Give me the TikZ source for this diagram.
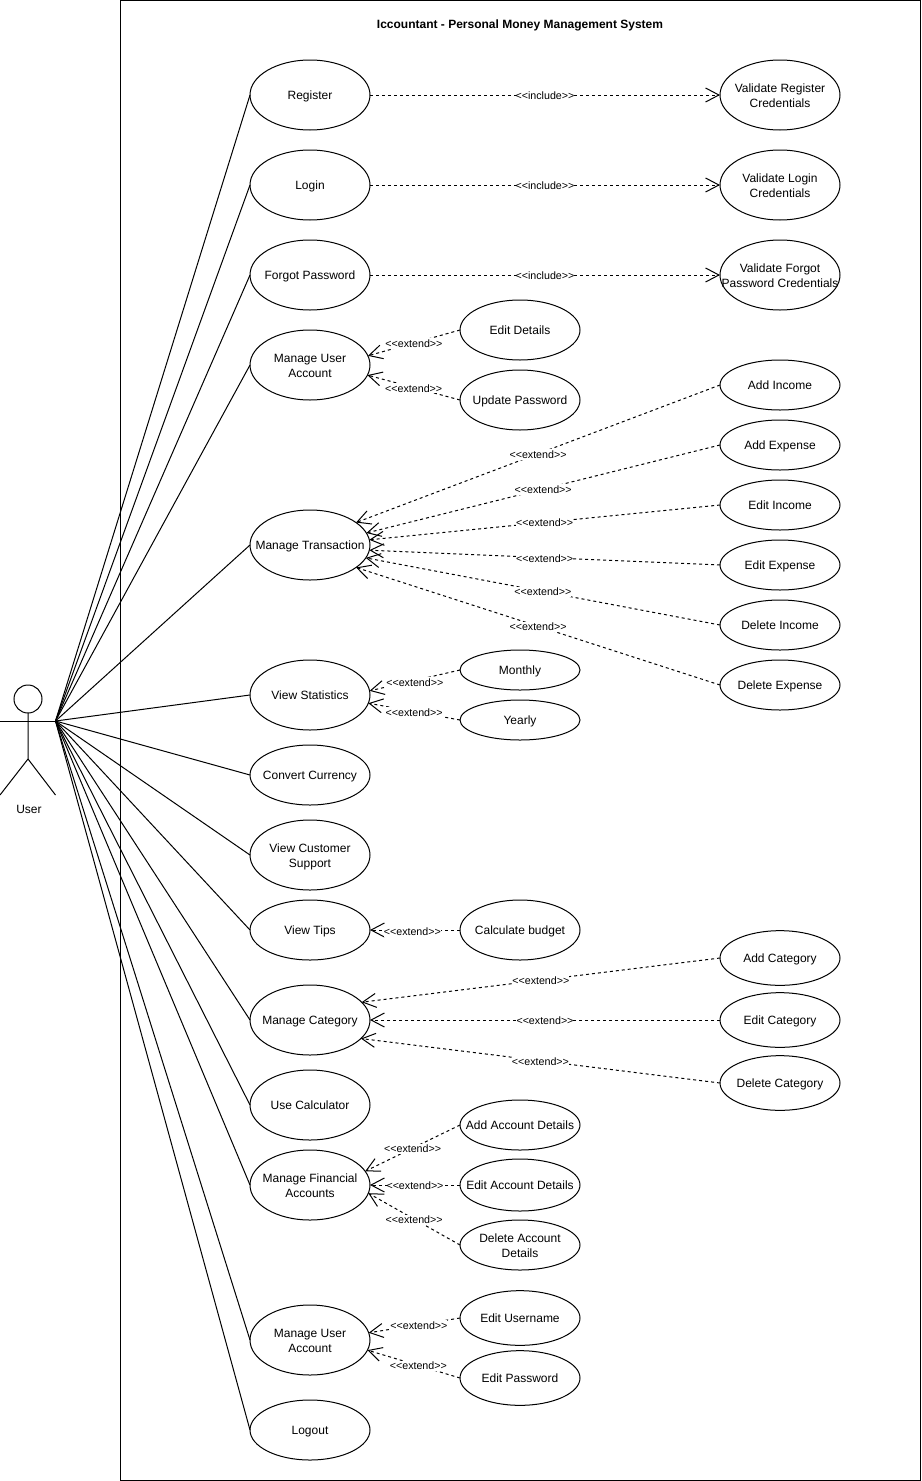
\documentclass[tikz,border=0pt]{standalone}
\usepackage{fontspec}
\setmainfont{Liberation Sans}
\usetikzlibrary{shapes.geometric}
\usetikzlibrary{arrows.meta}

\newcommand{\inclabel}{<{}<include>{}>}
\newcommand{\extlabel}{<{}<extend>{}>}
\newcommand{\linestrut}{\rule[-2pt]{0pt}{10pt}}
\newcommand{\topstrut}{\rule{0pt}{9.8pt}}

\tikzset{
  usecase/.style={draw,ellipse,line width=0.75pt,align=center,outer sep=0pt,
    inner xsep=-45pt,inner ysep=-20pt,minimum width=90pt,
    execute at begin node=\linestrut,execute at end node=\linestrut,
    font=\fontsize{9}{11.25}\selectfont},
  assoc/.style={line width=0.75pt},
  depline/.style={line width=0.75pt,dash pattern=on 2.25pt off 2.25pt,
    -{Straight Barb[length=10pt,width=10.5pt,line width=0.75pt]}},
  deplabel/.style={fill=white,inner xsep=0pt,inner ysep=1pt,midway,yshift=-0.5pt,
    font=\fontsize{8}{9}\selectfont}
}

\begin{document}
\begin{tikzpicture}[x=0.75pt,y=-0.75pt]
\useasboundingbox (0,0) rectangle (921,1481);
\node[draw,line width=0.75pt,minimum width=600pt,minimum height=1110pt,outer sep=0pt,inner sep=0pt] (system) at (520.5,740.5) {};
\node[font=\fontsize{9}{11}\bfseries] (title) at (520,25) {Iccountant - Personal Money Management System};

% actor
\node[draw,circle,line width=0.75pt,minimum size=21pt,inner sep=0pt,outer sep=0pt] (head) at (28,699) {};
\coordinate (hip) at (28,759);
\coordinate (lhand) at (0,721);
\coordinate (hand) at (55.5,721);
\coordinate (lfoot) at (0,795);
\coordinate (rfoot) at (55.5,795);
\draw[assoc] (head.south) -- (hip) -- (lfoot);
\draw[assoc] (hip) -- (rfoot);
\draw[assoc] (lhand) -- (hand);
\node[font=\fontsize{9}{11}\selectfont] (user) at (29,809) {User};

% left column
\node[usecase,minimum height=52.5pt] (register) at (310,95) {Register};
\node[usecase,minimum height=52.5pt] (login) at (310,185) {Login};
\node[usecase,minimum height=52.5pt] (forgot) at (310,275) {Forgot Password};
\node[usecase,minimum height=52.5pt] (account) at (310,365) {\topstrut Manage User\\Account};
\node[usecase,minimum height=52.5pt] (transaction) at (310,545) {Manage Transaction};
\node[usecase,minimum height=52.5pt] (statistics) at (310,695) {View Statistics};
\node[usecase,minimum height=45pt] (currency) at (310,775) {Convert Currency};
\node[usecase,minimum height=52.5pt] (support) at (310,855) {\topstrut View Customer\\Support};
\node[usecase,minimum height=45pt] (tips) at (310,930) {View Tips};
\node[usecase,minimum height=52.5pt] (category) at (310,1020) {Manage Category};
\node[usecase,minimum height=52.5pt] (calculator) at (310,1105) {Use Calculator};
\node[usecase,minimum height=52.5pt] (financial) at (310,1185) {\topstrut Manage Financial\\Accounts};
\node[usecase,minimum height=52.5pt] (profile) at (310,1340) {\topstrut Manage User\\Account};
\node[usecase,minimum height=45pt] (logout) at (310,1430) {Logout};

% middle column
\node[usecase,minimum height=45pt] (details) at (520,330) {Edit Details};
\node[usecase,minimum height=45pt] (password) at (520,400) {Update Password};
\node[usecase,minimum height=30pt] (monthly) at (520,670) {Monthly};
\node[usecase,minimum height=30pt] (yearly) at (520,720) {Yearly};
\node[usecase,minimum height=45pt] (budget) at (520,930) {Calculate budget};
\node[usecase,minimum height=37.5pt] (addacc) at (520,1125) {Add Account Details};
\node[usecase,minimum height=39pt] (editacc) at (520,1185) {Edit Account Details};
\node[usecase,minimum height=37.5pt] (delacc) at (520,1245) {\topstrut Delete Account\\Details};
\node[usecase,minimum height=41pt] (username) at (520,1318) {Edit Username};
\node[usecase,minimum height=41pt] (editpass) at (520,1378) {Edit Password};

% right column
\node[usecase,minimum height=52.5pt] (valreg) at (780,95) {\topstrut Validate Register\\Credentials};
\node[usecase,minimum height=52.5pt] (vallog) at (780,185) {\topstrut Validate Login\\Credentials};
\node[usecase,minimum height=52.5pt] (valfor) at (780,275) {\topstrut Validate Forgot\\Password Credentials};
\node[usecase,minimum height=37.5pt] (addinc) at (780,385) {Add Income};
\node[usecase,minimum height=37.5pt] (addexp) at (780,445) {Add Expense};
\node[usecase,minimum height=37.5pt] (editinc) at (780,505) {Edit Income};
\node[usecase,minimum height=37.5pt] (editexp) at (780,565) {Edit Expense};
\node[usecase,minimum height=37.5pt] (delinc) at (780,625) {Delete Income};
\node[usecase,minimum height=37.5pt] (delexp) at (780,685) {Delete Expense};
\node[usecase,minimum height=41pt] (addcat) at (780,958) {Add Category};
\node[usecase,minimum height=41pt] (editcat) at (780,1020) {Edit Category};
\node[usecase,minimum height=41pt] (delcat) at (780,1083) {Delete Category};

% actor to use cases
\path[assoc]
  (hand) edge (register.west)
         edge (login.west)
         edge (forgot.west)
         edge (account.west)
         edge (transaction.west)
         edge (statistics.west)
         edge (currency.west)
         edge (support.west)
         edge (tips.west)
         edge (category.west)
         edge (calculator.west)
         edge (financial.west)
         edge (profile.west)
         edge (logout.west);

% include
\path[depline]
  (register.east) edge node[deplabel] {\inclabel} (valreg.west)
  (login.east) edge node[deplabel] {\inclabel} (vallog.west)
  (forgot.east) edge node[deplabel] {\inclabel} (valfor.west);

% extend
\path[depline]
  (details.west) edge node[deplabel] {\extlabel} (account.9)
  (password.west) edge node[deplabel] {\extlabel} (account.-10)
  (addinc.west) edge node[deplabel] {\extlabel} (transaction.26)
  (addexp.west) edge node[deplabel] {\extlabel} (transaction.12)
  (editinc.west) edge node[deplabel] {\extlabel} (transaction.5)
  (editexp.west) edge node[deplabel] {\extlabel} (transaction.-5)
  (delinc.west) edge node[deplabel] {\extlabel} (transaction.-13)
  (delexp.west) edge node[deplabel] {\extlabel} (transaction.-26)
  (monthly.west) edge node[deplabel,yshift=-1pt] {\extlabel} (statistics.4)
  (yearly.west) edge node[deplabel] {\extlabel} (statistics.-8)
  (budget.west) edge node[deplabel,yshift=-1pt,xshift=-2pt] {\extlabel} (tips.east)
  (addcat.west) edge node[deplabel] {\extlabel} (category.19)
  (editcat.west) edge node[deplabel] {\extlabel} (category.east)
  (delcat.west) edge node[deplabel] {\extlabel} (category.-20)
  (addacc.west) edge node[deplabel] {\extlabel} (financial.14)
  (editacc.west) edge node[deplabel] {\extlabel} (financial.east)
  (delacc.west) edge node[deplabel] {\extlabel} (financial.-8)
  (username.west) edge node[deplabel,pos=0.45] {\extlabel} (profile.7)
  (editpass.west) edge node[deplabel,pos=0.45] {\extlabel} (profile.-10);
\end{tikzpicture}
\end{document}
